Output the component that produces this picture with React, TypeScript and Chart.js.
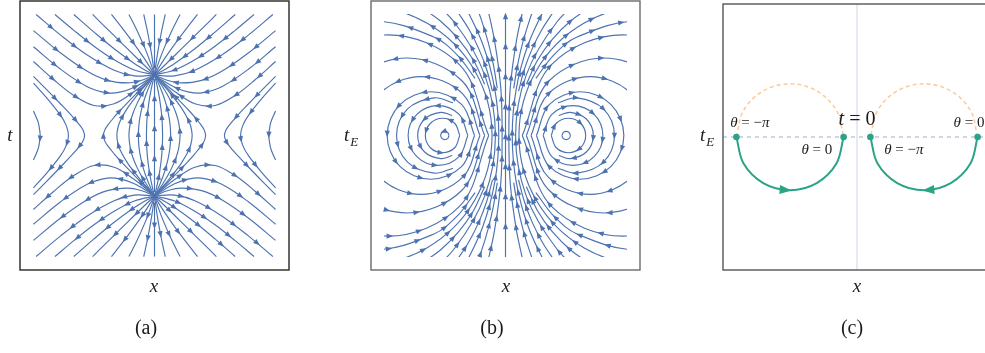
import { useEffect, useRef } from "react";
import { Chart, registerables } from "chart.js";

Chart.register(...registerables);

type Pt = [number, number];

// ---------------------------------------------------------------------------
// (a) Real time. Every list is the upper-left quarter of one streamline,
// written in the direction of flow. The other quarters follow from the
// reflections x -> -x and t -> -t (the second one reverses the flow).
// ---------------------------------------------------------------------------

// From the top / left boundary into the sink at (0, 0.45).
const realSinkLines: Pt[][] = [
  [[-0.88, 0.9], [-0.7, 0.748], [-0.5, 0.598], [-0.3, 0.485], [-0.15, 0.443], [0, 0.45]],
  [[-0.74, 0.9], [-0.6, 0.782], [-0.45, 0.664], [-0.3, 0.563], [-0.15, 0.487], [0, 0.45]],
  [[-0.6, 0.9], [-0.45, 0.769], [-0.3, 0.645], [-0.15, 0.536], [-0.05, 0.475], [0, 0.45]],
  [[-0.46, 0.9], [-0.35, 0.791], [-0.25, 0.693], [-0.15, 0.595], [-0.07, 0.517], [0, 0.45]],
  [[-0.32, 0.9], [-0.24, 0.799], [-0.16, 0.693], [-0.08, 0.579], [-0.03, 0.501], [0, 0.45]],
  [[-0.19, 0.9], [-0.13, 0.781], [-0.07, 0.646], [-0.03, 0.542], [0, 0.45]],
  [[-0.08, 0.9], [-0.05, 0.762], [-0.02, 0.594], [0, 0.45]],
  [[-0.9, 0.78], [-0.7, 0.615], [-0.5, 0.477], [-0.35, 0.41], [-0.2, 0.391], [-0.1, 0.409], [0, 0.45]],
  [[-0.9, 0.66], [-0.7, 0.494], [-0.5, 0.363], [-0.35, 0.317], [-0.25, 0.324], [-0.15, 0.359], [-0.05, 0.416], [0, 0.45]],
  [[-0.9, 0.55], [-0.75, 0.416], [-0.6, 0.298], [-0.45, 0.223], [-0.3, 0.236], [-0.15, 0.327], [-0.05, 0.407], [0, 0.45]],
];

// Leave the t = 0 axis between the saddle and the centre line, rise to the sink.
const realLensLines: Pt[][] = [
  [[-0.06, 0], [-0.058, 0.082], [-0.055, 0.129], [-0.05, 0.182], [-0.04, 0.258], [-0.03, 0.317], [-0.02, 0.366], [-0.01, 0.41], [0, 0.45]],
  [[-0.12, 0], [-0.115, 0.089], [-0.1, 0.178], [-0.08, 0.254], [-0.06, 0.312], [-0.04, 0.363], [-0.02, 0.408], [0, 0.45]],
  [[-0.19, 0], [-0.18, 0.094], [-0.16, 0.165], [-0.13, 0.237], [-0.1, 0.295], [-0.06, 0.362], [-0.03, 0.407], [0, 0.45]],
  [[-0.28, 0], [-0.27, 0.067], [-0.25, 0.119], [-0.2, 0.205], [-0.15, 0.273], [-0.1, 0.335], [-0.05, 0.393], [0, 0.45]],
  [[-0.38, 0], [-0.37, 0.04], [-0.35, 0.074], [-0.3, 0.136], [-0.25, 0.192], [-0.2, 0.245], [-0.1, 0.348], [-0.05, 0.399], [0, 0.45]],
];

// Come down from the left edge and meet the t = 0 axis outside the saddle.
const realOuterLines: Pt[][] = [
  [[-0.9, 0.44], [-0.8, 0.339], [-0.7, 0.236], [-0.6, 0.13], [-0.55, 0.069], [-0.53, 0.037], [-0.52, 0]],
  [[-0.9, 0.389], [-0.8, 0.278], [-0.7, 0.152], [-0.66, 0.083], [-0.64, 0]],
  [[-0.9, 0.182], [-0.87, 0.113], [-0.86, 0.079], [-0.85, 0]],
];

const realAxisTop: Pt[] = [[0, 0.9], [0, 0.5]];
const realAxisMiddle: Pt[] = [[0, 0], [0, 0.42]];

// ---------------------------------------------------------------------------
// (b) Euclidean time: circulation about the left centre near (-0.45, 0).
// Upper halves, counter-clockwise.
// ---------------------------------------------------------------------------

// Arcs that end on the t_E = 0 axis on the outer side (rings around the centre).
const euclidRings: Pt[][] = [
  [[-0.42, 0], [-0.429, 0.022], [-0.451, 0.031], [-0.473, 0.022], [-0.482, 0]],
  [[-0.34, 0], [-0.378, 0.091], [-0.468, 0.128], [-0.558, 0.091], [-0.596, 0]],
  [[-0.396, 0.149], [-0.482, 0.172], [-0.603, 0.121], [-0.653, 0]],
  [[-0.28, 0], [-0.345, 0.157], [-0.502, 0.222], [-0.659, 0.157], [-0.724, 0]],
  [[-0.39, 0.243], [-0.53, 0.28], [-0.728, 0.198], [-0.81, 0]],
  [[-0.23, 0], [-0.325, 0.23], [-0.555, 0.325], [-0.785, 0.23], [-0.88, 0]],
  [[-0.19, 0], [-0.318, 0.31], [-0.628, 0.438], [-0.938, 0.31], [-1.066, 0]],
  [[-0.155, 0], [-0.324, 0.407], [-0.731, 0.576], [-1.138, 0.407], [-1.307, 0]],
  [[-0.125, 0], [-0.344, 0.529], [-0.873, 0.748], [-1.402, 0.529], [-1.621, 0]],
];

// Wide arcs that leave the t_E = 0 axis close to the centre line.
const euclidWideArcs: Pt[][] = [
  [[-0.1, 0], [-0.229, 0.482], [-0.582, 0.834], [-1.063, 0.963], [-1.545, 0.834]],
  [[-0.075, 0], [-0.154, 0.449], [-0.382, 0.844], [-0.635, 1.076]],
  [[-0.05, 0], [-0.08, 0.347], [-0.171, 0.684], [-0.318, 1.0]],
  [[-0.025, 0], [-0.035, 0.352], [-0.081, 0.702], [-0.14, 0.977]],
];

// Arcs that only show in the upper part of the panel.
const euclidUpperArcs: Pt[][] = [
  [[-0.061, 0.35], [-0.0895, 0.523], [-0.129, 0.694], [-0.18, 0.862], [-0.233, 1.004]],
  [[-0.097, 0.33], [-0.14, 0.491], [-0.199, 0.646], [-0.275, 0.795], [-0.366, 0.934]],
  [[-0.155, 0.381], [-0.237, 0.557], [-0.348, 0.715], [-0.486, 0.853], [-0.645, 0.964]],
  [[-0.226, 0.424], [-0.36, 0.6], [-0.536, 0.734], [-0.96, 0.848], [-1.384, 0.734]],
];

const euclidAxis: Pt[] = [[0, 0], [0, 1]];

// ---------------------------------------------------------------------------
// (c) Complex-time contour: semicircles about x = -0.5 and x = 0.5.
// ---------------------------------------------------------------------------
const pathLowerLeft: Pt[] = [[-0.9, 0], [-0.8464, -0.2], [-0.7, -0.3464], [-0.5, -0.4], [-0.3, -0.3464], [-0.1536, -0.2], [-0.1, 0]];
const pathUpperLeft: Pt[] = [[-0.9, 0], [-0.8464, 0.2], [-0.7, 0.3464], [-0.5, 0.4], [-0.3, 0.3464], [-0.1536, 0.2], [-0.1, 0]];
const pathLowerRight: Pt[] = [[0.9, 0], [0.8464, -0.2], [0.7, -0.3464], [0.5, -0.4], [0.3, -0.3464], [0.1536, -0.2], [0.1, 0]];
const pathUpperRight: Pt[] = [[0.9, 0], [0.8464, 0.2], [0.7, 0.3464], [0.5, 0.4], [0.3, 0.3464], [0.1536, 0.2], [0.1, 0]];
const pathEnds: Pt[] = [[-0.9, 0], [-0.1, 0], [0.1, 0], [0.9, 0]];
const spaceAxisLine: Pt[] = [[-1, 0], [1, 0]];
const timeAxisLine: Pt[] = [[0, -1], [0, 1]];

// Text
const TITLE_X = "x";
const TITLE_T = "t";
const TITLE_TE = "t";
const TITLE_TE_SUB = "E";
const CAPTIONS = ["(a)", "(b)", "(c)"];
const THETA = "θ";
const PI = "π";
const EQ_MINUS = " = −";
const EQ_ZERO = " = 0";

// ---------------------------------------------------------------------------
const STREAM = "#4c72b0";
const GREEN = "#2ba386";
const ORANGE = "#fdcc9e";
const SERIF = '"Liberation Serif", "DejaVu Serif", "Times New Roman", serif';

const mirrorT = (line: Pt[]): Pt[] => line.map(([x, t]) => [x, -t] as Pt).reverse();
const mirrorX = (line: Pt[]): Pt[] => line.map(([x, t]) => [-x, t] as Pt);
// upper half starts on the axis: prepend the lower half
const fromAxis = (upper: Pt[]): Pt[] => [...mirrorT(upper), ...upper.slice(1)];
// upper half ends on the axis: append the lower half
const toAxis = (upper: Pt[]): Pt[] => [...upper, ...mirrorT(upper).slice(1)];

function realStreamlines(): Pt[][] {
  const left = [
    ...realSinkLines.flatMap((l) => [l, mirrorT(l)]),
    ...realLensLines.map(fromAxis),
    ...realOuterLines.map(toAxis),
  ];
  return [...left, ...left.map(mirrorX), realAxisTop, mirrorT(realAxisTop), fromAxis(realAxisMiddle)];
}

function euclidStreamlines(): Pt[][] {
  const left = [
    ...euclidRings.map(toAxis),
    ...euclidWideArcs.map(fromAxis),
    ...euclidUpperArcs.flatMap((l) => [l, mirrorT(l)]),
  ];
  return [...left, ...left.map(mirrorX), fromAxis(euclidAxis)];
}

const toXY = (line: Pt[]) => line.map(([x, y]) => ({ x, y }));

function streamDatasets(lines: Pt[][], inset: number, head: number, tail: number) {
  return lines.map((line, i) => ({
    data: toXY(line),
    borderColor: STREAM,
    borderWidth: 1.15,
    pointRadius: 0,
    tension: 0.36,
    fill: false,
    clip: -inset,
    // arrow spacing along the path, staggered from line to line
    arrowSpec: { len: 6.5, half: 2.6, every: 30, first: head + ((i * 11) % 24), tail, inset: inset + 2 },
  }));
}

function contourDatasets() {
  const arc = (line: Pt[], extra: Record<string, unknown>) => ({
    data: toXY(line),
    pointRadius: 0,
    tension: 0.35,
    fill: false,
    ...extra,
  });
  const head = { len: 12, half: 4.5, tipAt: 0.51, inset: 0 };
  return [
    {
      data: toXY(pathEnds),
      showLine: false,
      pointRadius: 3.3,
      pointBackgroundColor: GREEN,
      pointBorderWidth: 0,
    },
    arc(pathLowerLeft, { borderColor: GREEN, borderWidth: 2, arrowSpec: head }),
    arc(pathLowerRight, { borderColor: GREEN, borderWidth: 2, arrowSpec: head }),
    arc(pathUpperLeft, { borderColor: ORANGE, borderWidth: 1.6, borderDash: [4, 3] }),
    arc(pathUpperRight, { borderColor: ORANGE, borderWidth: 1.6, borderDash: [4, 3] }),
    arc(spaceAxisLine, { borderColor: "#b9c3da", borderWidth: 1.4, borderDash: [4, 4], tension: 0 }),
    arc(timeAxisLine, { borderColor: "#cbd4e7", borderWidth: 1, tension: 0 }),
  ];
}

// Arrowheads placed along the drawn (Bezier) path of a dataset.
function sampleCurve(pts: any[]) {
  const out = [{ x: pts[0].x, y: pts[0].y }];
  for (let k = 0; k < pts.length - 1; k++) {
    const a = pts[k];
    const b = pts[k + 1];
    const c1x = Number.isFinite(a.cp2x) ? a.cp2x : a.x;
    const c1y = Number.isFinite(a.cp2y) ? a.cp2y : a.y;
    const c2x = Number.isFinite(b.cp1x) ? b.cp1x : b.x;
    const c2y = Number.isFinite(b.cp1y) ? b.cp1y : b.y;
    for (let s = 1; s <= 20; s++) {
      const u = s / 20;
      const v = 1 - u;
      out.push({
        x: v * v * v * a.x + 3 * v * v * u * c1x + 3 * v * u * u * c2x + u * u * u * b.x,
        y: v * v * v * a.y + 3 * v * v * u * c1y + 3 * v * u * u * c2y + u * u * u * b.y,
      });
    }
  }
  return out;
}

const flowArrows = {
  id: "flowArrows",
  afterDatasetsDraw(chart: any) {
    const { ctx, chartArea: area } = chart;
    chart.data.datasets.forEach((ds: any, i: number) => {
      const spec = ds.arrowSpec;
      if (!spec) return;
      const pts = chart.getDatasetMeta(i).data as any[];
      if (pts.length < 2) return;
      const path = sampleCurve(pts);
      const cum = [0];
      for (let k = 1; k < path.length; k++) {
        cum.push(cum[k - 1] + Math.hypot(path[k].x - path[k - 1].x, path[k].y - path[k - 1].y));
      }
      const total = cum[cum.length - 1];
      const stops: number[] = [];
      if (spec.tipAt !== undefined) stops.push(total * spec.tipAt - spec.len / 2);
      else for (let s = spec.first; s < total - spec.tail; s += spec.every) stops.push(s);
      ctx.save();
      ctx.fillStyle = ds.borderColor;
      for (const s of stops) {
        let k = 1;
        while (k < cum.length - 1 && cum[k] < s) k++;
        const seg = cum[k] - cum[k - 1] || 1;
        const f = Math.min(1, Math.max(0, (s - cum[k - 1]) / seg));
        const x = path[k - 1].x + f * (path[k].x - path[k - 1].x);
        const y = path[k - 1].y + f * (path[k].y - path[k - 1].y);
        if (
          x < area.left + spec.inset || x > area.right - spec.inset ||
          y < area.top + spec.inset || y > area.bottom - spec.inset
        ) continue;
        let dx = path[k].x - path[k - 1].x;
        let dy = path[k].y - path[k - 1].y;
        const d = Math.hypot(dx, dy) || 1;
        dx /= d;
        dy /= d;
        const tx = x + (dx * spec.len) / 2;
        const ty = y + (dy * spec.len) / 2;
        const bx = x - (dx * spec.len) / 2;
        const by = y - (dy * spec.len) / 2;
        ctx.beginPath();
        ctx.moveTo(tx, ty);
        ctx.lineTo(bx - dy * spec.half, by + dx * spec.half);
        ctx.lineTo(bx + dy * spec.half, by - dx * spec.half);
        ctx.closePath();
        ctx.fill();
      }
      ctx.restore();
    });
  },
};

function framePlugin(color: string, width: number) {
  return {
    id: "panelFrame",
    afterDraw(chart: any) {
      const { ctx, chartArea: a } = chart;
      ctx.save();
      ctx.strokeStyle = color;
      ctx.lineWidth = width;
      ctx.strokeRect(a.left, a.top, a.right - a.left, a.bottom - a.top);
      ctx.restore();
    },
  };
}

type Run = [string, boolean];
type Label = { runs: Run[]; size: number; x: number; y: number; data?: boolean; sub?: string };

function textPlugin(labels: Label[]) {
  return {
    id: "panelText",
    afterDraw(chart: any) {
      const { ctx } = chart;
      ctx.save();
      ctx.fillStyle = "#1c1c1c";
      ctx.textBaseline = "middle";
      ctx.textAlign = "left";
      for (const lab of labels) {
        const px = lab.data ? chart.scales.x.getPixelForValue(lab.x) : lab.x;
        const py = lab.data ? chart.scales.y.getPixelForValue(lab.y) : lab.y;
        const fonts = lab.runs.map(([, it]) => `${it ? "italic " : ""}${lab.size}px ${SERIF}`);
        const widths = lab.runs.map(([t], k) => {
          ctx.font = fonts[k];
          return ctx.measureText(t).width;
        });
        const subFont = `italic ${Math.round(lab.size * 0.7)}px ${SERIF}`;
        let subW = 0;
        if (lab.sub) {
          ctx.font = subFont;
          subW = ctx.measureText(lab.sub).width + 1;
        }
        let x = px - (widths.reduce((a, b) => a + b, 0) + subW) / 2;
        lab.runs.forEach(([t], k) => {
          ctx.font = fonts[k];
          ctx.fillText(t, x, py);
          x += widths[k];
        });
        if (lab.sub) {
          ctx.font = subFont;
          ctx.fillText(lab.sub, x + 1, py + lab.size * 0.32);
        }
      }
      ctx.restore();
    },
  };
}

type Panel = {
  left: number;
  width: number;
  padding: { left: number; right: number; top: number; bottom: number };
  frame: string;
  datasets: any[];
  labels: Label[];
};

const PANELS: Panel[] = [
  {
    left: 0,
    width: 330,
    padding: { left: 20, right: 41, top: 1, bottom: 83 },
    frame: "#262626",
    datasets: streamDatasets(realStreamlines(), 4, 20, 18),
    labels: [
      { runs: [[TITLE_T, true]], size: 19, x: 10, y: 136 },
      { runs: [[TITLE_X, true]], size: 19, x: 154, y: 287 },
      { runs: [[CAPTIONS[0], false]], size: 20, x: 146, y: 329 },
    ],
  },
  {
    left: 330,
    width: 330,
    padding: { left: 41, right: 20, top: 1, bottom: 83 },
    frame: "#6a6a6a",
    datasets: streamDatasets(euclidStreamlines(), 13, 8, 10),
    labels: [
      { runs: [[TITLE_TE, true]], sub: TITLE_TE_SUB, size: 19, x: 21, y: 136 },
      { runs: [[TITLE_X, true]], size: 19, x: 176, y: 287 },
      { runs: [[CAPTIONS[1], false]], size: 20, x: 162, y: 329 },
    ],
  },
  {
    left: 660,
    width: 345,
    padding: { left: 63, right: 14, top: 1, bottom: 83 },
    frame: "#555555",
    datasets: contourDatasets(),
    labels: [
      { runs: [[TITLE_TE, true]], sub: TITLE_TE_SUB, size: 19, x: 47, y: 136 },
      { runs: [[TITLE_X, true]], size: 19, x: 197, y: 287 },
      { runs: [[CAPTIONS[2], false]], size: 20, x: 192, y: 329 },
      { runs: [[TITLE_T, true], [EQ_ZERO, false]], size: 20, x: 0, y: 0.127, data: true },
      { runs: [[THETA, true], [EQ_MINUS, false], [PI, true]], size: 15, x: -0.8, y: 0.104, data: true },
      { runs: [[THETA, true], [EQ_ZERO, false]], size: 15, x: 0.836, y: 0.104, data: true },
      { runs: [[THETA, true], [EQ_ZERO, false]], size: 15, x: -0.3, y: -0.097, data: true },
      { runs: [[THETA, true], [EQ_MINUS, false], [PI, true]], size: 15, x: 0.35, y: -0.097, data: true },
    ],
  },
];

function buildChart(canvas: HTMLCanvasElement, panel: Panel) {
  return new Chart(canvas, {
    type: "line",
    data: { datasets: panel.datasets },
    options: {
      responsive: false,
      animation: false,
      events: [],
      layout: { padding: panel.padding },
      scales: {
        x: { type: "linear", min: -1, max: 1, display: false },
        y: { type: "linear", min: -1, max: 1, display: false },
      },
      plugins: { legend: { display: false }, tooltip: { enabled: false } },
      elements: { line: { capBezierPoints: false } },
    },
    plugins: [flowArrows, framePlugin(panel.frame, 1.4), textPlugin(panel.labels)],
  } as any);
}

export default function App() {
  const refA = useRef<HTMLCanvasElement>(null);
  const refB = useRef<HTMLCanvasElement>(null);
  const refC = useRef<HTMLCanvasElement>(null);

  useEffect(() => {
    const canvases = [refA.current, refB.current, refC.current];
    const charts = PANELS.map((p, i) => buildChart(canvases[i] as HTMLCanvasElement, p));
    return () => charts.forEach((c) => c.destroy());
  }, []);

  const refs = [refA, refB, refC];
  return (
    <div
      style={{
        position: "fixed",
        left: 0,
        top: 0,
        width: 985,
        height: 353,
        overflow: "hidden",
        background: "#ffffff",
      }}
    >
      {PANELS.map((p, i) => (
        <canvas
          key={i}
          ref={refs[i]}
          width={p.width}
          height={353}
          style={{ position: "absolute", left: p.left, top: 0 }}
        />
      ))}
    </div>
  );
}
